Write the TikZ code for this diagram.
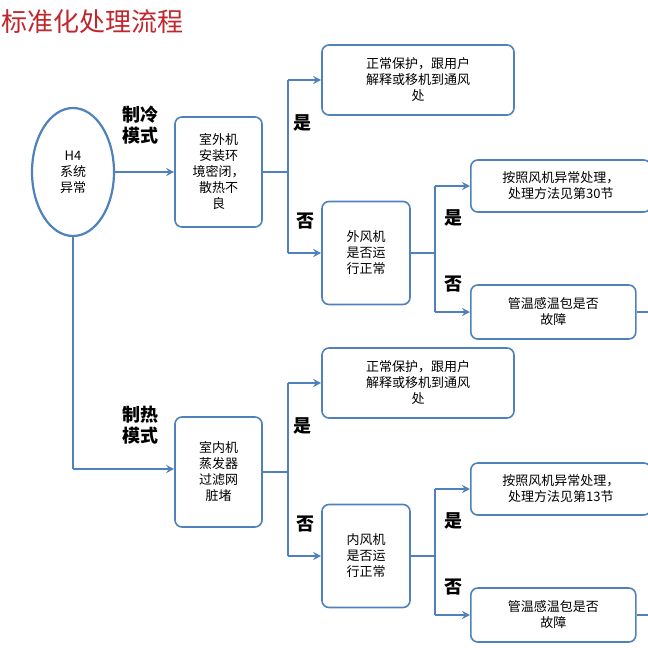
\documentclass[tikz,border=0pt]{standalone}
\usepackage{fontspec}
\setmainfont{Noto Sans CJK SC}
\usetikzlibrary{shapes.geometric,arrows.meta}
\definecolor{bl}{HTML}{4F81BD}
\definecolor{tr}{HTML}{C0262D}
\tikzset{
 bx/.style={draw=bl,line width=1.6pt,rounded corners=7pt,align=center,font=\fontsize{13}{16}\selectfont,inner sep=2pt},
 ln/.style={draw=bl,line width=2.2pt},
 ar/.style={ln,-{Stealth[length=8pt,width=8pt]}},
 lb/.style={font=\fontsize{18}{21}\selectfont\bfseries,align=center}
}
\begin{document}
\begin{tikzpicture}[x=1pt,y=-1pt]
\useasboundingbox (0,0) rectangle (648,648);
\node[anchor=west,text=tr,font=\fontsize{26}{30}\selectfont] (t) at (-2,22) {标准化处理流程};
\node[ellipse,draw=bl,line width=2.2pt,minimum width=82pt,minimum height=128pt,align=center,font=\fontsize{13}{16}\selectfont,inner sep=0pt] (h) at (73,172) {H4\\系统\\异常};
\foreach \dy/\p/\q/\r/\s/\txt/\bt/\ct/\nn in {0/A/B/C/D/{室外机\\安装环\\境密闭，\\散热不\\良}/{外风机\\是否运\\行正常}/30/1,303/E/F/G/H/{室内机\\蒸发器\\过滤网\\脏堵}/{内风机\\是否运\\行正常}/13/2}{
 \node[bx,minimum width=87pt,minimum height=110pt] (m\nn) at (218.5,{172+\dy-(\nn-1)*3}) {\txt};
 \node[bx,minimum width=192pt,minimum height=70pt] (\p) at (418,80+\dy) {正常保护，跟用户\\解释或移机到通风\\处};
 \node[bx,minimum width=88pt,minimum height=103pt] (\q) at (366,253+\dy) {\bt};
 \node[bx,minimum width=180pt,minimum height=52pt,anchor=west] (\r) at (470,186+\dy) {按照风机异常处理，\\处理方法见第\ct 节};
 \node[bx,minimum width=165pt,minimum height=54pt,anchor=west] (\s) at (470,312+\dy) {管温感温包是否\\故障};
 \coordinate (j\nn) at (288,0);
 \draw[ln] (m\nn.east) -- (m\nn.east -| j\nn);
 \draw[ln] (j\nn |- \p) -- (j\nn |- \q);
 \draw[ar] (j\nn |- \p) -- (\p.west);
 \draw[ar] (j\nn |- \q) -- (\q.west);
 \coordinate (k\nn) at (435,0);
 \draw[ln] (\q.east) -- (\q.east -| k\nn);
 \draw[ln] (k\nn |- \r) -- (k\nn |- \s);
 \draw[ar] (k\nn |- \r) -- (\r.west);
 \draw[ar] (k\nn |- \s) -- (\s.west);
 \coordinate (e\nn) at (648,312+\dy);
 \draw[ln] (\s.east) -- (e\nn);
 \node[lb] at (302,123+\dy) {是};
 \node[lb] at (305,221+\dy) {否};
 \node[lb] at (453,218+\dy) {是};
 \node[lb] at (453,284+\dy) {否};
}
\draw[ar] (h.east) -- (m1.west |- h.east);
\coordinate (c) at (73,469);
\draw[ln] (h.south) -- (c);
\draw[ar] (c) -- (m2.west |- c);
\node[lb] at (140,125) {制冷\\模式};
\node[lb] at (140,425) {制热\\模式};
\end{tikzpicture}
\end{document}
